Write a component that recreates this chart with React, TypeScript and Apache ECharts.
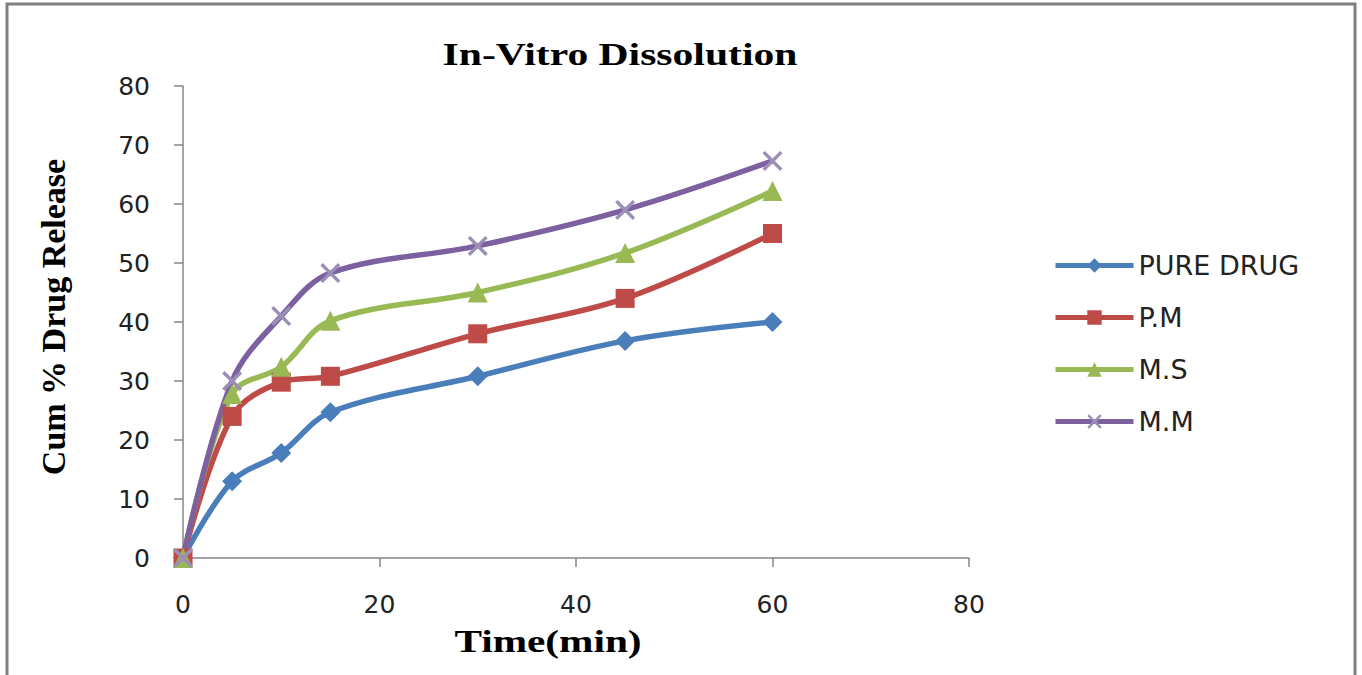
import React, { useEffect, useRef } from "react";
import * as echarts from "echarts";

const timeMin = [0, 5, 10, 15, 30, 45, 60];
const pureDrug = [0, 13, 17.8, 24.7, 30.8, 36.8, 40];
const pm = [0, 24, 29.8, 30.8, 38, 44, 55];
const ms = [0, 27.8, 32.4, 40.2, 45, 51.7, 62.2];
const mm = [0, 30, 41, 48.3, 52.9, 59, 67.3];

const seriesNames = ["PURE DRUG", "P.M", "M.S", "M.M"];
const seriesColors = ["#4A7EBB", "#BE4B48", "#98B954", "#7D60A0"];
const titleText = "In-Vitro Dissolution";
const xName = "Time(min)";
const yName = "Cum % Drug Release";

const crossSymbol =
  "path://M0,1.2L1.2,0L5,3.8L8.8,0L10,1.2L6.2,5L10,8.8L8.8,10L5,6.2L1.2,10L0,8.8L3.8,5Z";

const axisColor = "#868686";
const labelFont = "'DejaVu Sans'";
const serifFont = "'Liberation Serif', 'DejaVu Serif', serif";

export default function App() {
  const ref = useRef<HTMLDivElement>(null);

  useEffect(() => {
    if (!ref.current) return;
    const chart = echarts.init(ref.current, undefined, { renderer: "svg" });
    const allData = [pureDrug, pm, ms, mm];
    const symbols = ["diamond", "rect", "triangle", crossSymbol];
    const sizes = [20, 19, 20, 20];
    const series = allData.map((vals, i) => ({
      name: seriesNames[i],
      type: "line",
      smooth: 0.35,
      data: timeMin.map((t, j) => [t, vals[j]]),
      symbol: symbols[i],
      symbolSize: sizes[i],
      showAllSymbol: true,
      lineStyle: { color: seriesColors[i], width: 5.5 },
      itemStyle: { color: i === 3 ? "#9b8fb5" : seriesColors[i] },
    }));

    chart.setOption({
      animation: false,
      backgroundColor: "#ffffff",
      legend: {
        orient: "vertical",
        left: 1053,
        top: 252,
        padding: 0,
        itemWidth: 78,
        itemHeight: 18,
        itemGap: 25,
        lineStyle: { width: 5 },
        textStyle: { fontFamily: labelFont, fontSize: 27, color: "#222" },
        data: seriesNames,
      },
      grid: { left: 183, right: 393, top: 86, bottom: 117 },
      xAxis: {
        type: "value",
        min: 0,
        max: 80,
        interval: 20,
        axisLine: { show: true, lineStyle: { color: axisColor, width: 1.5 } },
        axisTick: { show: true, length: 9, lineStyle: { color: axisColor, width: 1.5 } },
        axisLabel: { fontFamily: labelFont, fontSize: 25, color: "#222", margin: 34 },
        splitLine: { show: false },
      },
      yAxis: {
        type: "value",
        min: 0,
        max: 80,
        interval: 10,
        name: yName,
        nameLocation: "middle",
        nameGap: 113,
        nameTextStyle: {
          fontFamily: serifFont,
          fontWeight: "bold",
          fontSize: 34,
          color: "#000",
          padding: [0, 0, 0, 10],
        },
        axisLine: { show: true, lineStyle: { color: axisColor, width: 1.5 } },
        axisTick: { show: true, length: 9, lineStyle: { color: axisColor, width: 1.5 } },
        axisLabel: { fontFamily: labelFont, fontSize: 25, color: "#222", margin: 33 },
        splitLine: { show: false },
      },
      graphic: [
        {
          type: "rect",
          shape: { x: 7, y: 4, width: 1348, height: 700 },
          style: { fill: "none", stroke: "#808080", lineWidth: 3 },
          silent: true,
        },
        {
          type: "text",
          x: 620,
          y: 54,
          scaleX: 1.3,
          style: {
            text: titleText,
            x: 0,
            y: 0,
            textAlign: "center",
            textVerticalAlign: "middle",
            font: "bold 32px 'Liberation Serif', serif",
            fill: "#000",
          },
        },
        {
          type: "text",
          x: 548,
          y: 641,
          scaleX: 1.29,
          style: {
            text: xName,
            x: 0,
            y: 0,
            textAlign: "center",
            textVerticalAlign: "middle",
            font: "bold 32px 'Liberation Serif', serif",
            fill: "#000",
          },
        },
      ],
      series,
    });
    return () => chart.dispose();
  }, []);

  return (
    <div
      ref={ref}
      style={{ position: "absolute", left: 0, top: 0, width: 1362, height: 675 }}
    />
  );
}
